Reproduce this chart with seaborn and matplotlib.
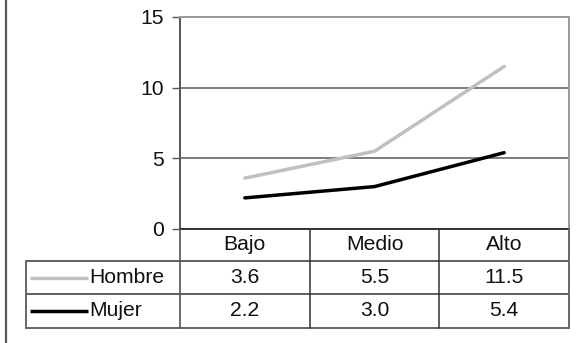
import matplotlib
matplotlib.use("Agg")
import matplotlib.pyplot as plt
import seaborn as sns
import pandas as pd

categorias = ["Bajo", "Medio", "Alto"]
series = ["Hombre", "Mujer"]
hombre = [3.6, 5.5, 11.5]
mujer = [2.2, 3.0, 5.4]
y_ticks = [0, 5, 10, 15]

colores = {"Hombre": "#c0c0c0", "Mujer": "#000000"}

sns.set_style("white")
plt.rcParams["font.family"] = ["Liberation Sans", "DejaVu Sans"]
FS = 15.2

df = pd.DataFrame({
    "nivel": categorias * 2,
    "valor": hombre + mujer,
    "sexo": [series[0]] * 3 + [series[1]] * 3,
})

W, H = 582, 343
fig = plt.figure(figsize=(W / 100, H / 100), dpi=100)
fig.patch.set_facecolor("white")

# plot area in pixel units
x0, x1, y_top, y_bot = 180, 569, 17, 229
ax = fig.add_axes([x0 / W, (H - y_bot) / H, (x1 - x0) / W, (y_bot - y_top) / H])

sns.lineplot(data=df, x="nivel", y="valor", hue="sexo", palette=colores,
             linewidth=2.5, legend=False, ax=ax, sort=False)

ax.set_xlim(-0.5, len(categorias) - 0.5)
ax.set_ylim(0, 15)
ax.set_yticks(y_ticks)
ax.set_yticklabels([str(t) for t in y_ticks], fontsize=FS, color="#111111")
ax.set_xticks([])
ax.set_xlabel("")
ax.set_ylabel("")
for v in y_ticks[1:-1]:
    ax.axhline(v, color="#666666", lw=1.2, zorder=0)
ax.spines["left"].set_color("#555555")
ax.spines["left"].set_linewidth(1.4)
ax.spines["bottom"].set_color("#333333")
ax.spines["bottom"].set_linewidth(1.4)
ax.spines["top"].set_color("#999999")
ax.spines["top"].set_linewidth(1.4)
ax.spines["right"].set_color("#999999")
ax.spines["right"].set_linewidth(1.4)
ax.tick_params(axis="y", direction="out", length=5.5, width=1, color="#555555",
               pad=6, left=True)

# overlay in pixel coordinates for the data table
ov = fig.add_axes([0, 0, 1, 1], facecolor="none")
ov.set_xlim(0, W)
ov.set_ylim(H, 0)
ov.axis("off")

fig.canvas.draw()
to_px = lambda xd: ax.transData.transform((xd, 0))[0]
edges = [to_px(i - 0.5) for i in range(len(categorias) + 1)]
centers = [to_px(i) for i in range(len(categorias))]

row_tops = [229, 261, 294, 328]
t_left = 26
inner = "#333333"
outer = "#666666"

# horizontal rules
for yy in row_tops[1:3]:
    ov.plot([t_left, edges[-1]], [yy, yy], color=inner, lw=1.1)
ov.plot([t_left, edges[-1]], [row_tops[-1], row_tops[-1]], color=outer, lw=1.4)
# vertical rules
for xx in edges[1:-1]:
    ov.plot([xx, xx], [row_tops[0], row_tops[-1]], color=inner, lw=1.1)
ov.plot([edges[0], edges[0]], [row_tops[0], row_tops[-1]], color="#555555", lw=1.2)
ov.plot([edges[-1], edges[-1]], [row_tops[0], row_tops[-1]], color=outer, lw=1.4)
ov.plot([t_left, t_left], [row_tops[1], row_tops[-1]], color=outer, lw=1.4)

# header labels
hc = (row_tops[0] + row_tops[1]) / 2
for cx, cat in zip(centers, categorias):
    ov.text(cx, hc, cat, ha="center", va="center", fontsize=FS, color="#111111")

# series rows
for r, (nombre, vals) in enumerate(zip(series, [hombre, mujer])):
    rc = (row_tops[r + 1] + row_tops[r + 2]) / 2
    ov.plot([30, 88], [rc, rc], color=colores[nombre], lw=2.5, solid_capstyle="butt")
    ov.text(89, rc, nombre, ha="left", va="center", fontsize=FS, color="#111111")
    for cx, v in zip(centers, vals):
        ov.text(cx, rc, f"{v:.1f}", ha="center", va="center", fontsize=FS, color="#111111")

# frame edge on the left
ov.plot([6, 6], [0, H], color="#555555", lw=1.6)

fig.savefig("out.png", dpi=100, facecolor="white")
